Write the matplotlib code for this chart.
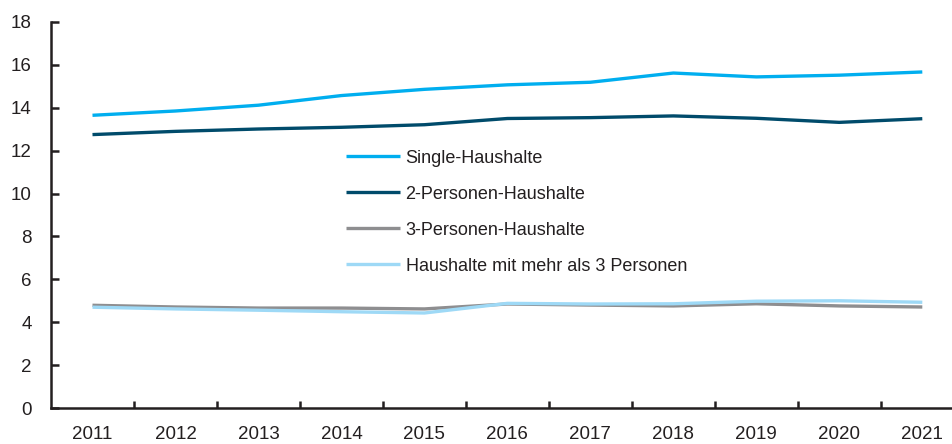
import matplotlib

matplotlib.use("Agg")
import matplotlib.pyplot as plt

years = ["2011", "2012", "2013", "2014", "2015", "2016", "2017", "2018", "2019", "2020", "2021"]
single = [13.65, 13.85, 14.12, 14.57, 14.86, 15.07, 15.19, 15.62, 15.44, 15.52, 15.67]
two_persons = [12.75, 12.90, 13.01, 13.09, 13.21, 13.50, 13.54, 13.62, 13.51, 13.32, 13.49]
three_persons = [4.79, 4.71, 4.66, 4.66, 4.62, 4.85, 4.80, 4.76, 4.86, 4.76, 4.71]
more_persons = [4.70, 4.62, 4.56, 4.49, 4.43, 4.88, 4.85, 4.86, 4.98, 5.00, 4.93]

labels = ["Single-Haushalte", "2-Personen-Haushalte", "3-Personen-Haushalte",
          "Haushalte mit mehr als 3 Personen"]
colors = ["#00AEEF", "#004B6B", "#8E8E90", "#9ED9F6"]

plt.rcParams["font.family"] = ["Liberation Sans", "DejaVu Sans"]
text_color = "#231F20"

fig = plt.figure(figsize=(9.53, 4.44), dpi=100)
ax = fig.add_axes([51 / 953, 36 / 444, (953 - 51) / 953, (408 - 22) / 444])

x = range(len(years))
for series, lab, col in zip([single, two_persons, three_persons, more_persons], labels, colors):
    ax.plot(x, series, color=col, lw=2.4, label=lab, solid_capstyle="butt")

ax.set_ylim(0, 18)
ax.set_yticks(range(0, 19, 2))
ax.set_xlim(-0.5, 10.37)
ax.set_xticks(list(x))
ax.set_xticklabels(years)
ax.set_xticks([i + 0.5 for i in range(len(years) - 1)], minor=True)

ax.tick_params(axis="x", which="major", length=0, pad=13, labelsize=13.5, labelcolor=text_color)
ax.tick_params(axis="x", which="minor", direction="in", length=5, width=1.8, color=text_color)
ax.tick_params(axis="y", direction="in", length=6, width=1.8, color=text_color,
               pad=14, labelsize=13.5, labelcolor=text_color)

for side in ["top", "right"]:
    ax.spines[side].set_visible(False)
for side in ["left", "bottom"]:
    ax.spines[side].set_linewidth(1.8)
    ax.spines[side].set_color(text_color)

leg = ax.legend(loc="center left", bbox_to_anchor=(0.363, 0.522), bbox_transform=fig.transFigure,
                frameon=False, fontsize=13, handlelength=3.0, handletextpad=0.3,
                labelspacing=1.05, borderpad=0, borderaxespad=0)
for t in leg.get_texts():
    t.set_color(text_color)

fig.savefig("out.png", dpi=100)
